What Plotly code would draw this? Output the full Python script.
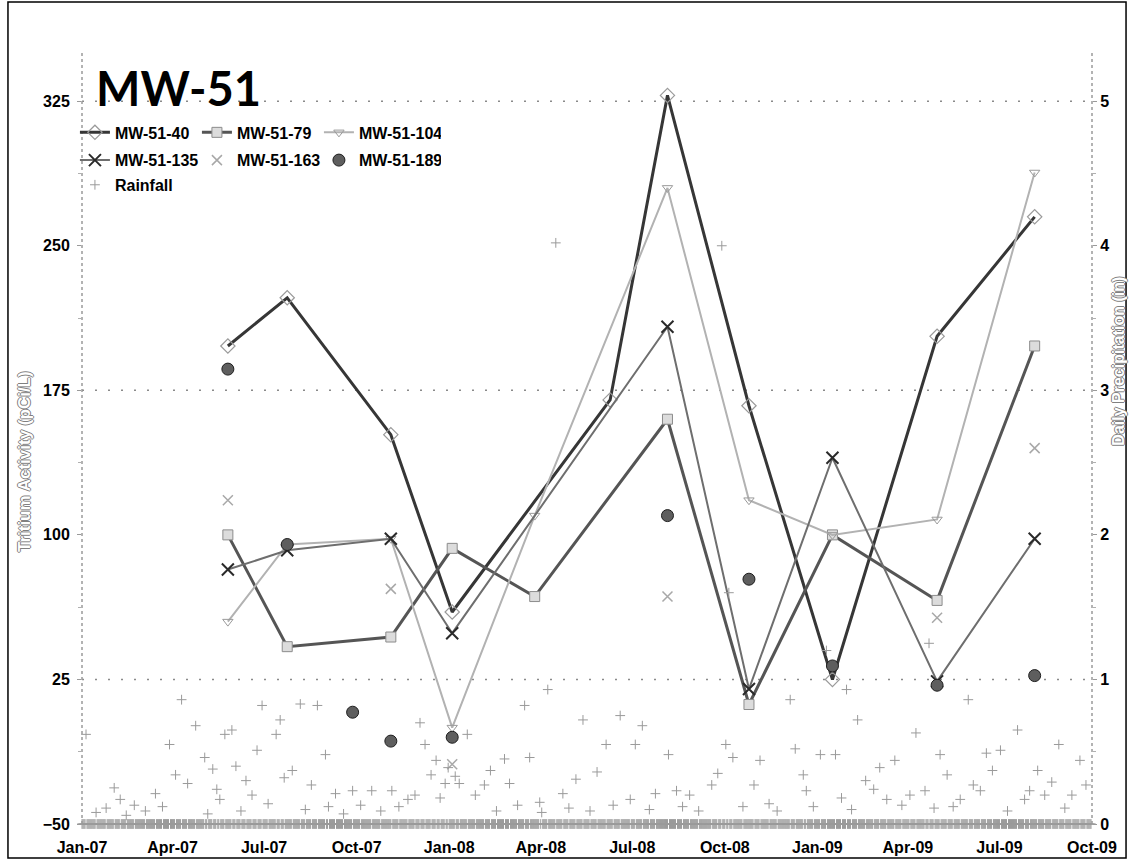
import pandas as pd
import plotly.graph_objects as go

# ---- tritium sampling results (pCi/L) ----
mw40_dates = ["2007-05-26", "2007-07-24", "2007-11-04", "2008-01-04", "2008-06-09",
              "2008-08-05", "2008-10-25", "2009-01-16", "2009-04-30", "2009-08-05"]
mw40_vals = [198, 223, 152, 60, 170, 328, 167, 25, 203, 265]

mw79_dates = ["2007-05-26", "2007-07-24", "2007-11-04", "2008-01-04", "2008-03-26",
              "2008-08-05", "2008-10-25", "2009-01-16", "2009-04-30", "2009-08-05"]
mw79_vals = [100, 42, 47, 93, 68, 160, 12, 100, 66, 198]

mw104_dates = ["2007-05-26", "2007-07-24", "2007-11-04", "2008-01-04", "2008-03-26",
               "2008-08-05", "2008-10-25", "2009-01-16", "2009-04-30", "2009-08-05"]
mw104_vals = [55, 95, 98, 0, 110, 280, 118, 100, 108, 288]

mw135_dates = ["2007-05-26", "2007-07-24", "2007-11-04", "2008-01-04", "2008-08-05",
               "2008-10-25", "2009-01-16", "2009-04-30", "2009-08-05"]
mw135_vals = [82, 92, 98, 49, 208, 20, 140, 24, 98]

mw163_dates = ["2007-05-26", "2007-11-04", "2008-01-04", "2008-08-05", "2009-04-30", "2009-08-05"]
mw163_vals = [118, 72, -19, 68, 57, 145]

mw189_dates = ["2007-05-26", "2007-07-24", "2007-09-27", "2007-11-04", "2008-01-04",
               "2008-08-05", "2008-10-25", "2009-01-16", "2009-04-30", "2009-08-05"]
mw189_vals = [186, 95, 8, -7, -5, 110, 77, 32, 22, 27]

# ---- daily precipitation (in): days with measurable rain; all other days recorded 0 ----
rain_event_dates = [
    "2007-01-05", "2007-01-15", "2007-01-25", "2007-02-02", "2007-02-08", "2007-02-14",
    "2007-02-22", "2007-03-05", "2007-03-15", "2007-03-22", "2007-03-29", "2007-04-04",
    "2007-04-10", "2007-04-16", "2007-04-24", "2007-05-03", "2007-05-06", "2007-05-11",
    "2007-05-15", "2007-05-18", "2007-05-23", "2007-05-30", "2007-06-03", "2007-06-08",
    "2007-06-13", "2007-06-19", "2007-06-24", "2007-06-29", "2007-07-05", "2007-07-13",
    "2007-07-17", "2007-07-21", "2007-07-29", "2007-08-06", "2007-08-11", "2007-08-17",
    "2007-08-23", "2007-08-31", "2007-09-03", "2007-09-10", "2007-09-18", "2007-09-27",
    "2007-10-05", "2007-10-16", "2007-10-25", "2007-11-05", "2007-11-12", "2007-11-21",
    "2007-11-28", "2007-12-03", "2007-12-08", "2007-12-14", "2007-12-19", "2007-12-23",
    "2007-12-28", "2007-12-31", "2008-01-07", "2008-01-11", "2008-01-19", "2008-01-27",
    "2008-02-05", "2008-02-11", "2008-02-17", "2008-02-25", "2008-03-01", "2008-03-09",
    "2008-03-16", "2008-03-21", "2008-03-31", "2008-04-02", "2008-04-08", "2008-04-16",
    "2008-04-23", "2008-04-29", "2008-05-06", "2008-05-13", "2008-05-20", "2008-05-27",
    "2008-06-05", "2008-06-12", "2008-06-19", "2008-06-29", "2008-07-04", "2008-07-11",
    "2008-07-18", "2008-07-24", "2008-08-06", "2008-08-14", "2008-08-20", "2008-08-27",
    "2008-09-05", "2008-09-18", "2008-09-24", "2008-09-28", "2008-10-02", "2008-10-05",
    "2008-10-09", "2008-10-19", "2008-10-30", "2008-11-05", "2008-11-14", "2008-11-22",
    "2008-12-05", "2008-12-10", "2008-12-18", "2008-12-21", "2008-12-28", "2009-01-04",
    "2009-01-10", "2009-01-19", "2009-01-25", "2009-01-30", "2009-02-04", "2009-02-10",
    "2009-02-18", "2009-02-26", "2009-03-04", "2009-03-11", "2009-03-19", "2009-03-26",
    "2009-04-03", "2009-04-09", "2009-04-18", "2009-04-22", "2009-04-27", "2009-05-03",
    "2009-05-10", "2009-05-16", "2009-05-23", "2009-05-31", "2009-06-05", "2009-06-12",
    "2009-06-18", "2009-06-24", "2009-07-02", "2009-07-09", "2009-07-19", "2009-07-26",
    "2009-07-31", "2009-08-08", "2009-08-15", "2009-08-22", "2009-08-29", "2009-09-04",
    "2009-09-11", "2009-09-19", "2009-09-25",
]
rain_event_vals = [
    0.62, 0.08, 0.11, 0.25, 0.17, 0.06,
    0.13, 0.09, 0.21, 0.12, 0.55, 0.34,
    0.86, 0.28, 0.68, 0.46, 0.07, 0.38,
    0.24, 0.17, 0.62, 0.65, 0.40, 0.09,
    0.30, 0.20, 0.51, 0.82, 0.14, 0.62,
    0.72, 0.32, 0.37, 0.83, 0.10, 0.27,
    0.82, 0.48, 0.12, 0.21, 0.07, 0.23,
    0.13, 0.23, 0.09, 0.23, 0.12, 0.17,
    0.20, 0.70, 0.55, 0.34, 0.44, 0.18,
    0.28, 0.39, 0.33, 0.28, 0.62, 0.20,
    0.27, 0.37, 0.09, 0.45, 0.28, 0.13,
    0.82, 0.46, 0.15, 0.08, 0.93, 4.02,
    0.21, 0.11, 0.31, 0.72, 0.09, 0.36,
    0.55, 0.13, 0.75, 0.17, 0.55, 0.68,
    0.10, 0.21, 0.48, 0.23, 0.12, 0.20,
    0.09, 0.27, 0.35, 4.00, 0.55, 1.60,
    0.46, 0.12, 0.27, 0.44, 0.14, 0.09,
    0.86, 0.52, 0.34, 0.23, 0.12, 0.48,
    1.20, 0.48, 0.18, 0.93, 0.10, 0.72,
    0.30, 0.24, 0.39, 0.17, 0.44, 0.13,
    0.20, 0.63, 0.23, 1.25, 0.11, 0.48,
    0.34, 0.12, 0.17, 0.86, 0.27, 0.23,
    0.49, 0.37, 0.51, 0.09, 0.65, 0.17,
    0.23, 0.37, 0.20, 0.29, 0.55, 0.11,
    0.20, 0.44, 0.27,
]
record_start, record_end = "2007-01-01", "2009-09-30"

rain = pd.Series(0.0, index=pd.date_range(record_start, record_end, freq="D"))
rain.loc[pd.to_datetime(rain_event_dates)] = rain_event_vals

# ---- styling ----
AX_FONT = dict(family="Liberation Sans, Arial", size=16, color="black", weight="bold")
LEG_FONT = dict(family="Liberation Sans, Arial", size=16, color="black", weight="bold")

fig = go.Figure()

fig.add_trace(go.Scatter(
    x=rain.index, y=rain.values, yaxis="y2", mode="markers", name="Rainfall",
    legend="legend3", cliponaxis=False,
    marker=dict(symbol="cross-thin", size=7, line=dict(width=1, color="#9a9a9a"), color="#9a9a9a"),
))

fig.add_trace(go.Scatter(
    x=mw40_dates, y=mw40_vals, mode="lines+markers", name="MW-51-40", legend="legend",
    line=dict(color="#363636", width=3),
    marker=dict(symbol="diamond-open", size=11, color="#9a9a9a", line=dict(width=1.2)),
))
fig.add_trace(go.Scatter(
    x=mw79_dates, y=mw79_vals, mode="lines+markers", name="MW-51-79", legend="legend",
    line=dict(color="#555555", width=3),
    marker=dict(symbol="square", size=10, color="#dcdcdc", line=dict(width=1, color="#8c8c8c")),
))
fig.add_trace(go.Scatter(
    x=mw104_dates, y=mw104_vals, mode="lines+markers", name="MW-51-104", legend="legend",
    line=dict(color="#b2b2b2", width=2),
    marker=dict(symbol="triangle-down-open", size=9, color="#9a9a9a", line=dict(width=1)),
))
fig.add_trace(go.Scatter(
    x=mw135_dates, y=mw135_vals, mode="lines+markers", name="MW-51-135", legend="legend2",
    line=dict(color="#6e6e6e", width=2),
    marker=dict(symbol="x-thin-open", size=12, color="#2a2a2a", line=dict(width=2, color="#2a2a2a")),
))
fig.add_trace(go.Scatter(
    x=mw163_dates, y=mw163_vals, mode="markers", name="MW-51-163", legend="legend2",
    marker=dict(symbol="x-thin-open", size=10, color="#a8a8a8", line=dict(width=1.5, color="#a8a8a8")),
))
fig.add_trace(go.Scatter(
    x=mw189_dates, y=mw189_vals, mode="markers", name="MW-51-189", legend="legend2",
    marker=dict(symbol="circle", size=12, color="#5e5e5e", line=dict(width=1, color="#1e1e1e")),
))

# sparse dotted gridlines and dotted axis lines
shapes = []
for gy in (25, 175, 325):
    shapes.append(dict(type="line", xref="paper", yref="y", x0=0, x1=1, y0=gy, y1=gy,
                       line=dict(color="#8a8a8a", width=1.5, dash="2px,11px"), layer="below"))
for gx in (0, 1):
    shapes.append(dict(type="line", xref="paper", yref="paper", x0=gx, x1=gx, y0=0, y1=1,
                       line=dict(color="#9a9a9a", width=1.5, dash="dot"), layer="below"))
# chart frame
shapes.append(dict(type="rect", xref="paper", yref="paper", x0=-0.0733, x1=1.0337, y0=-0.0441, y1=1.066,
                   line=dict(color="black", width=1.5), fillcolor="rgba(0,0,0,0)"))

OUTLINE = "#808080 1px 0 0, #808080 -1px 0 0, #808080 0 1px 0, #808080 0 -1px 0"

annotations = [
    dict(text="MW-51", xref="paper", yref="paper", x=0.012, y=0.993, xanchor="left", yanchor="top",
         showarrow=False, font=dict(family="Lato, Liberation Sans", size=47, color="black", weight="bold")),
    dict(text="Tritium Activity (pCi/L)", xref="paper", yref="paper", x=-0.057, y=0.47,
         xanchor="center", yanchor="middle", textangle=-90, showarrow=False,
         font=dict(family="Liberation Sans, Arial", size=17, color="white", weight="bold", shadow=OUTLINE)),
    dict(text="Daily Precipitation (in)", xref="paper", yref="paper", x=1.026, y=0.6,
         xanchor="center", yanchor="middle", textangle=-90, showarrow=False,
         font=dict(family="Liberation Sans, Arial", size=16, color="white", weight="bold", shadow=OUTLINE)),
]

legend_common = dict(orientation="h", xanchor="left", yanchor="top", bgcolor="rgba(0,0,0,0)",
                     font=LEG_FONT, entrywidth=77, entrywidthmode="pixels", itemwidth=30,
                     tracegroupgap=0, borderwidth=0)

fig.update_layout(
    width=1132, height=862,
    margin=dict(l=82, r=40, t=53, b=38, autoexpand=False),
    paper_bgcolor="white", plot_bgcolor="white",
    showlegend=True,
    legend=dict(x=-0.007, y=0.919, **legend_common),
    legend2=dict(x=-0.007, y=0.883, **legend_common),
    legend3=dict(x=-0.007, y=0.851, **legend_common),
    xaxis=dict(
        type="date", range=["2007-01-01", "2009-10-01"], tick0="2007-01-01", dtick="M3",
        tickformat="%b-%y", showgrid=False, zeroline=False, showline=False, ticks="",
        tickfont=AX_FONT, ticklabelstandoff=12, automargin=False,
    ),
    yaxis=dict(
        range=[-50, 350], tick0=-50, dtick=75, showgrid=False, zeroline=False, showline=False,
        ticks="outside", ticklen=4, tickcolor="#9a9a9a", tickfont=AX_FONT, ticklabelstandoff=4,
        automargin=False,
        minor=dict(dtick=37.5, tick0=-50, ticks="outside", ticklen=3, tickcolor="#b0b0b0"),
    ),
    yaxis2=dict(
        range=[0, 400 / 75], tick0=0, dtick=1, overlaying="y", side="right", showgrid=False,
        zeroline=False, showline=False, ticks="outside", ticklen=4, tickcolor="#9a9a9a",
        tickfont=AX_FONT, automargin=False,
        minor=dict(dtick=0.5, tick0=0, ticks="outside", ticklen=3, tickcolor="#b0b0b0"),
    ),
    shapes=shapes,
    annotations=annotations,
)

fig.write_html("out.html")
